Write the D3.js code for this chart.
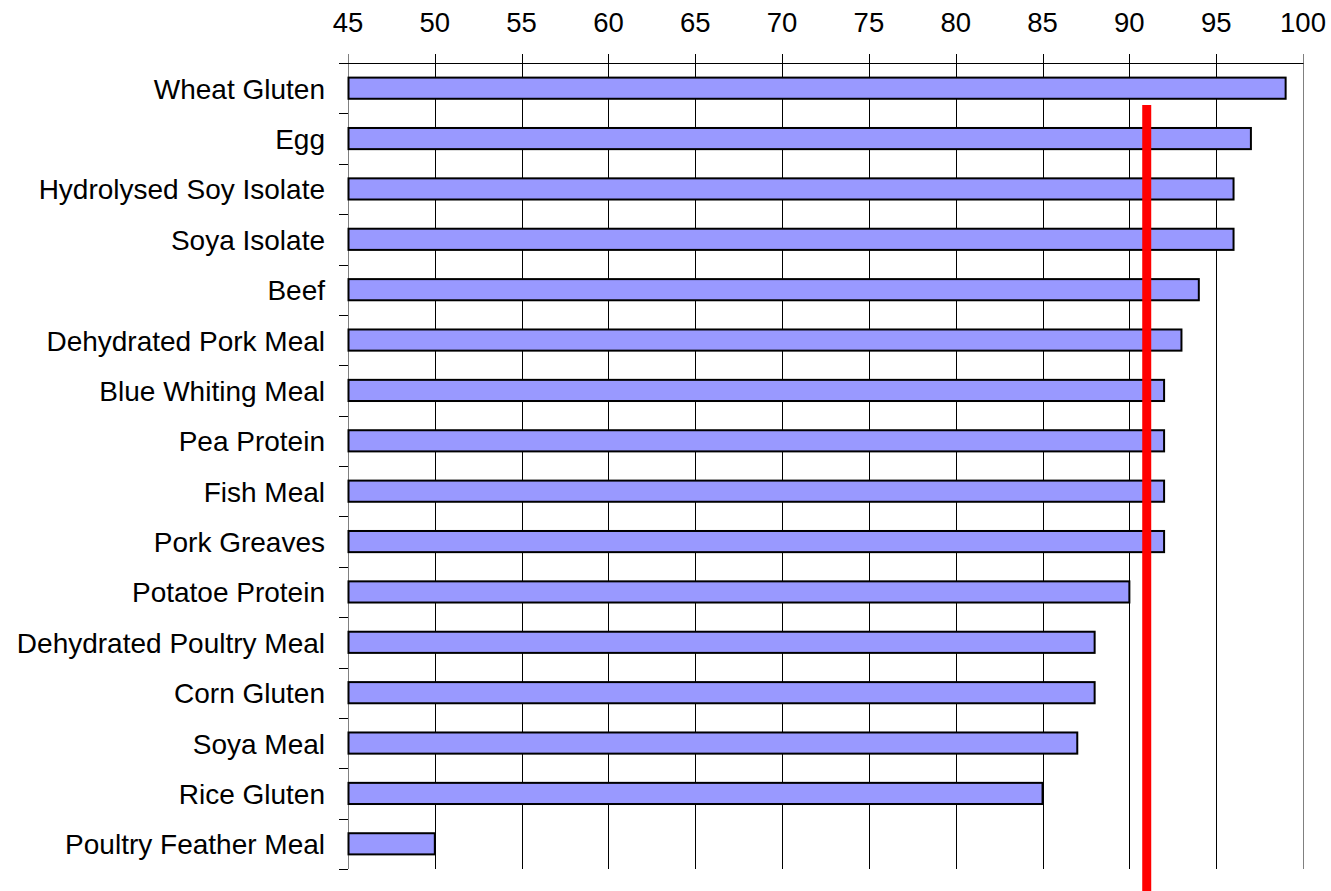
<!DOCTYPE html>
<html>
<head>
<meta charset="utf-8">
<script src="https://cdn.jsdelivr.net/npm/d3@7"></script>
<style>
  html, body { margin: 0; padding: 0; background: #fff; }
  svg { display: block; }
  text { font-family: Arial, "Liberation Sans", sans-serif; fill: #000; }
</style>
</head>
<body>
<svg id="chart" width="1331" height="891"></svg>
<script>
// Protein sources and their digestibility (%)
const categories = [
  "Wheat Gluten", "Egg", "Hydrolysed Soy Isolate", "Soya Isolate", "Beef",
  "Dehydrated Pork Meal", "Blue Whiting Meal", "Pea Protein", "Fish Meal",
  "Pork Greaves", "Potatoe Protein", "Dehydrated Poultry Meal", "Corn Gluten",
  "Soya Meal", "Rice Gluten", "Poultry Feather Meal"
];
const values = [99, 97, 96, 96, 94, 93, 92, 92, 92, 92, 90, 88, 88, 87, 85, 50];
const xTicks = [45, 50, 55, 60, 65, 70, 75, 80, 85, 90, 95, 100];
const referenceValue = [91];

const svg = d3.select("#chart");
const margin = { top: 63, left: 348 };
const H = 891;
const plotBottom = 869;

const x = d3.scaleLinear().domain([45, 100]).range([margin.left, 1303]);
const y = d3.scaleBand().domain(categories).range([margin.top, plotBottom]).paddingInner(0.58).paddingOuter(0.29);
const band = d3.scaleBand().domain(categories).range([margin.top, plotBottom]);

// vertical gridlines (extend above the plot as outward ticks)
svg.append("g").selectAll("line").data(xTicks).join("line")
  .attr("x1", d => Math.round(x(d)) + 0.5).attr("x2", d => Math.round(x(d)) + 0.5)
  .attr("y1", 54).attr("y2", plotBottom)
  .attr("stroke", d => (d === 45 || d === 100) ? "#808080" : "#000")
  .attr("stroke-width", 1);

// top tick labels
svg.append("g").selectAll("text").data(xTicks).join("text")
  .attr("x", d => x(d)).attr("y", 32)
  .attr("text-anchor", "middle")
  .style("font-size", "27.5px")
  .text(d => d);

// top border line
svg.append("line")
  .attr("x1", 339).attr("x2", Math.round(x(100)) + 0.5)
  .attr("y1", margin.top + 0.5).attr("y2", margin.top + 0.5)
  .attr("stroke", "#000").attr("stroke-width", 1);

// category ticks at band boundaries
const boundaries = categories.map(c => band(c)).concat([plotBottom]);
svg.append("g").selectAll("line").data(boundaries).join("line")
  .attr("x1", 339).attr("x2", margin.left)
  .attr("y1", d => Math.round(d) + 0.5).attr("y2", d => Math.round(d) + 0.5)
  .attr("stroke", "#000").attr("stroke-width", 1);

// bars
svg.append("g").selectAll("rect").data(categories).join("rect")
  .attr("x", x(45) + 0.5)
  .attr("y", d => y(d))
  .attr("width", (d, i) => x(values[i]) - x(45) - 0.5)
  .attr("height", y.bandwidth())
  .attr("fill", "#9999ff")
  .attr("stroke", "#000")
  .attr("stroke-width", 2);

// category labels
svg.append("g").selectAll("text").data(categories).join("text")
  .attr("x", 325)
  .attr("y", d => band(d) + band.bandwidth() / 2 + 10.5)
  .attr("text-anchor", "end")
  .style("font-size", "28px")
  .text(d => d);

// reference line
svg.append("g").selectAll("line").data(referenceValue).join("line")
  .attr("x1", d => x(d)).attr("x2", d => x(d))
  .attr("y1", 105).attr("y2", H)
  .attr("stroke", "#ff0000").attr("stroke-width", 9);
</script>
</body>
</html>
